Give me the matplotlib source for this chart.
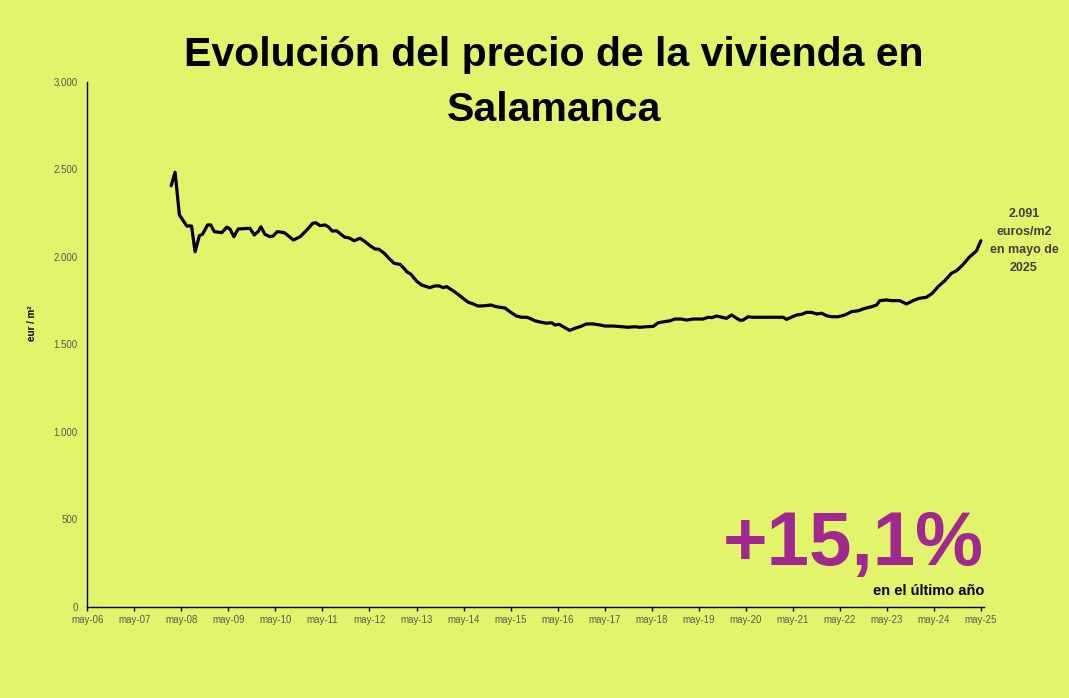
import matplotlib
matplotlib.use("Agg")
import matplotlib.pyplot as plt

# ---- data (x = months since May 2006, y = eur/m2) ----
months = [21.4, 22.4, 23.5, 25.4, 26.6, 27.5, 28.6, 29.4, 30.7, 31.5,
          32.4, 34.3, 35.6, 36.4, 37.4, 38.5, 41.5, 42.6, 43.6, 44.3,
          45.3, 46.6, 47.4, 48.5, 50.3, 52.6, 54.3, 56.0, 57.5, 58.3,
          59.4, 60.6, 61.5, 62.5, 63.6, 64.7, 65.7, 66.7, 68.1, 69.6,
          70.9, 72.1, 73.4, 74.4, 75.8, 77.2, 78.3, 79.8, 80.8, 81.5,
          82.6, 84.0, 85.3, 86.6, 87.4, 88.7, 89.8, 90.8, 91.7, 93.4,
          94.6, 95.9, 97.2, 98.5, 99.7, 101.5, 103.0, 104.4, 106.6, 107.8,
          109.5, 110.8, 112.1, 112.9, 114.2, 115.9, 117.2, 118.5, 119.3, 120.4,
          121.9, 123.1, 124.4, 125.7, 127.4, 129.1, 130.8, 132.1, 134.2, 136.3,
          138.0, 139.7, 141.0, 142.7, 144.4, 145.7, 147.4, 148.7, 149.9, 151.6,
          152.9, 154.6, 157.1, 158.4, 159.3, 160.6, 161.8, 163.1, 164.4, 165.7,
          166.5, 167.3, 168.6, 169.9, 177.6, 178.4, 179.7, 181.0, 182.3, 183.5,
          184.8, 186.1, 187.4, 188.6, 189.9, 191.6, 193.3, 195.0, 196.7, 198.4,
          200.1, 201.4, 202.2, 203.9, 205.2, 207.3, 209.0, 210.7, 212.2, 214.1,
          215.6, 217.1, 218.8, 220.5, 221.8, 223.5, 225.0, 226.9, 228.0]
prices = [2405, 2482, 2238, 2175, 2175, 2028, 2120, 2128, 2181, 2181,
          2143, 2137, 2169, 2158, 2114, 2158, 2162, 2124, 2143, 2171,
          2128, 2114, 2118, 2143, 2137, 2095, 2114, 2152, 2190, 2194,
          2177, 2181, 2171, 2146, 2148, 2128, 2111, 2108, 2091, 2105,
          2085, 2063, 2044, 2042, 2019, 1985, 1962, 1956, 1934, 1914,
          1899, 1861, 1838, 1829, 1823, 1833, 1833, 1823, 1829, 1804,
          1785, 1762, 1740, 1730, 1718, 1720, 1724, 1714, 1707, 1686,
          1661, 1654, 1654, 1648, 1634, 1625, 1620, 1623, 1610, 1614,
          1594, 1579, 1591, 1600, 1616, 1616, 1610, 1604, 1604, 1600,
          1597, 1600, 1597, 1600, 1602, 1623, 1629, 1634, 1644, 1644,
          1638, 1644, 1644, 1654, 1652, 1661, 1655, 1648, 1667, 1648,
          1637, 1638, 1657, 1654, 1654, 1642, 1655, 1667, 1671, 1682,
          1682, 1673, 1677, 1663, 1657, 1657, 1667, 1686, 1691, 1705,
          1714, 1724, 1749, 1753, 1749, 1749, 1730, 1749, 1762, 1768,
          1791, 1829, 1863, 1905, 1920, 1956, 1996, 2034, 2091]

tick_months = [12 * i for i in range(20)]
tick_labels = ["may-%02d" % (6 + i) for i in range(20)]
y_ticks = [0, 500, 1000, 1500, 2000, 2500, 3000]
y_labels = ["0", "500", "1.000", "1.500", "2.000", "2.500", "3.000"]

title_lines = ["Evolución del precio de la vivienda en", "Salamanca"]
last_note = "2.091\neuros/m2\nen mayo de\n2025"
big_note = "+15,1%"
small_note = "en el último año"

# ---- style ----
BG = "#E1F46C"
plt.rcParams["font.family"] = ["Liberation Sans", "DejaVu Sans"]

fig = plt.figure(figsize=(10.69, 6.98), dpi=100, facecolor=BG)
ax = fig.add_axes([87.3 / 1069, 1 - 607 / 698, (984 - 87.3) / 1069, (607 - 81.5) / 698])
ax.set_facecolor(BG)

ax.plot(months, prices, color="black", lw=2.3, solid_joinstyle="round", solid_capstyle="round")

ax.set_xlim(0, 228.8)
ax.set_ylim(0, 3000)
ax.set_xticks(tick_months)
ax.set_xticklabels(tick_labels)
ax.set_yticks(y_ticks)
ax.set_yticklabels(y_labels)
for s in ["top", "right"]:
    ax.spines[s].set_visible(False)
for s in ["left", "bottom"]:
    ax.spines[s].set_color("black")
    ax.spines[s].set_linewidth(1.0)
ax.tick_params(axis="x", length=3, width=1, color="black", pad=3, labelsize=7, labelcolor="#595959")
ax.tick_params(axis="y", length=0, pad=7, labelsize=7, labelcolor="#595959")

fig.text(32 / 1069, 1 - 323 / 698, "eur / m²", rotation=90, ha="center", va="center",
         fontsize=7, fontweight="bold", color="black")

for line, base in zip(title_lines, [66, 121]):
    fig.text(554 / 1069, 1 - base / 698, line, ha="center", va="baseline", fontsize=29.5,
             fontweight="bold", color="black")

fig.text(1024 / 1069, 1 - 241 / 698, last_note, ha="center", va="center",
         fontsize=9, fontweight="bold", color="#404040", linespacing=1.7)

fig.text(984 / 1069, 1 - 565 / 698, big_note, ha="right", va="baseline", fontsize=55,
         fontweight="bold", color="#A0288F")
fig.text(984 / 1069, 1 - 595 / 698, small_note, ha="right", va="baseline", fontsize=10.5,
         fontweight="bold", color="black")

fig.savefig("out.png", dpi=100, facecolor=BG)
